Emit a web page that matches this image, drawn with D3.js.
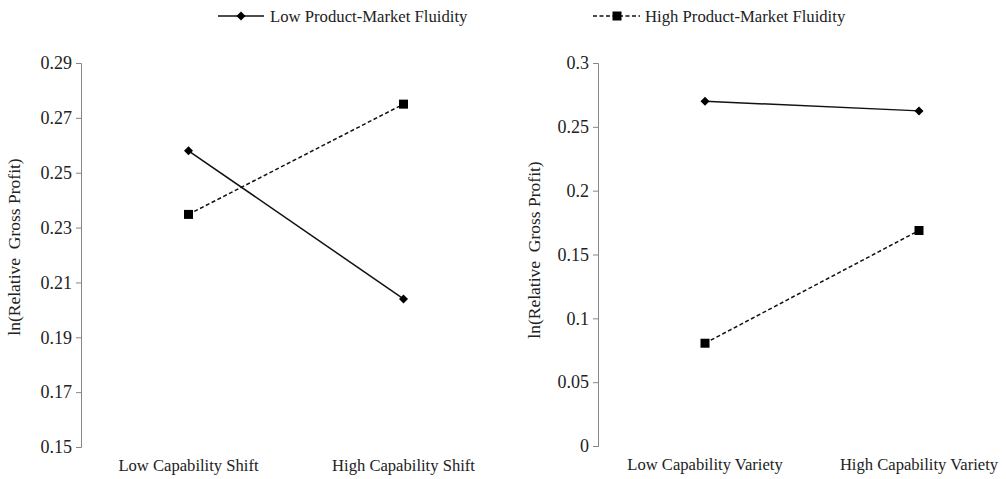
<!DOCTYPE html>
<html>
<head>
<meta charset="utf-8">
<script src="https://cdn.jsdelivr.net/npm/d3@7"></script>
<style>
  html, body { margin: 0; padding: 0; background: #fff; }
  svg text { font-family: "Liberation Serif", "Times New Roman", serif; fill: #222; white-space: pre; }
</style>
</head>
<body>
<svg id="chart" width="1006" height="479"></svg>
<script>
// Interaction plots: ln(relative gross profit) by capability level and product-market fluidity
const seriesNames = ["Low Product-Market Fluidity", "High Product-Market Fluidity"];

const shiftCategories = ["Low Capability Shift", "High Capability Shift"];
const shiftLowFluidity = [0.258, 0.204];
const shiftHighFluidity = [0.2348, 0.275];
const shiftTicks = [0.15, 0.17, 0.19, 0.21, 0.23, 0.25, 0.27, 0.29];
const shiftTickLabels = ["0.15", "0.17", "0.19", "0.21", "0.23", "0.25", "0.27", "0.29"];

const varietyCategories = ["Low Capability Variety", "High Capability Variety"];
const varietyLowFluidity = [0.2700, 0.2625];
const varietyHighFluidity = [0.0805, 0.1688];
const varietyTicks = [0, 0.05, 0.1, 0.15, 0.2, 0.25, 0.3];
const varietyTickLabels = ["0", "0.05", "0.1", "0.15", "0.2", "0.25", "0.3"];

const yTitle = "ln(Relative  Gross Profit)";

const svg = d3.select("#chart");
const axisColor = "#868686";
const tickFont = 18;
const catFont = 16.6;
const legendFont = 16.7;
const titleFont = 17.5;

// diamond marker: a square turned 45 degrees
function diamondPath(r) {
  return `M0,${-r}L${r},0L0,${r}L${-r},0Z`;
}

function panel(opts) {
  const g = svg.append("g");
  const x = d3.scalePoint().domain(opts.categories).range([opts.x0, opts.x1]).padding(0.5);
  const y = d3.scaleLinear().domain([opts.ticks[0], opts.ticks[opts.ticks.length - 1]]).range([opts.yBottom, opts.yTop]);

  const axis = d3.axisLeft(y).tickValues(opts.ticks).tickFormat((d, i) => opts.tickLabels[i]).tickSizeOuter(0).tickSize(5).tickPadding(4);
  const ag = g.append("g").attr("transform", `translate(${opts.x0},0)`).call(axis);
  ag.attr("font-family", null);
  ag.select(".domain").attr("stroke", axisColor).attr("stroke-width", 1);
  ag.selectAll(".tick line").attr("stroke", axisColor);
  ag.selectAll(".tick text").attr("font-size", tickFont).attr("fill", "#222");

  // category labels
  g.selectAll("text.cat").data(opts.categories).enter().append("text")
    .attr("class", "cat")
    .attr("x", d => x(d)).attr("y", opts.yBottom + 24)
    .attr("text-anchor", "middle").attr("font-size", catFont)
    .text(d => d);

  // y title
  g.append("text")
    .attr("transform", `translate(${opts.titleX},${opts.titleY}) rotate(-90)`)
    .attr("text-anchor", "middle").attr("font-size", titleFont)
    .text(yTitle);

  const line = d3.line().x((d, i) => x(opts.categories[i])).y(d => y(d));

  g.append("path").datum(opts.low).attr("d", line)
    .attr("fill", "none").attr("stroke", "#111").attr("stroke-width", 1.5);
  g.append("path").datum(opts.high).attr("d", line)
    .attr("fill", "none").attr("stroke", "#111").attr("stroke-width", 1.5).attr("stroke-dasharray", "4,2.5");

  g.selectAll("path.dia").data(opts.low).enter().append("path")
    .attr("class", "dia")
    .attr("d", diamondPath(4.5))
    .attr("transform", (d, i) => `translate(${x(opts.categories[i])},${y(d)})`)
    .attr("fill", "#000");
  g.selectAll("rect.sq").data(opts.high).enter().append("rect")
    .attr("class", "sq")
    .attr("x", (d, i) => x(opts.categories[i]) - 4.5).attr("y", d => y(d) - 4.5)
    .attr("width", 9).attr("height", 9).attr("fill", "#000");
}

panel({
  categories: shiftCategories, low: shiftLowFluidity, high: shiftHighFluidity,
  ticks: shiftTicks, tickLabels: shiftTickLabels,
  x0: 81, x1: 511, yTop: 63, yBottom: 447, titleX: 20, titleY: 247
});
panel({
  categories: varietyCategories, low: varietyLowFluidity, high: varietyHighFluidity,
  ticks: varietyTicks, tickLabels: varietyTickLabels,
  x0: 598, x1: 1026, yTop: 63, yBottom: 446, titleX: 540, titleY: 250
});

// legend
const leg = svg.append("g");
leg.append("line").attr("x1", 218).attr("x2", 264).attr("y1", 16).attr("y2", 16)
  .attr("stroke", "#111").attr("stroke-width", 1.5);
leg.append("path").attr("d", diamondPath(4.5)).attr("transform", "translate(241,16)");
leg.append("text").attr("x", 270).attr("y", 21.5).attr("font-size", legendFont).text(seriesNames[0]);

leg.append("line").attr("x1", 593).attr("x2", 640).attr("y1", 16).attr("y2", 16)
  .attr("stroke", "#111").attr("stroke-width", 1.5).attr("stroke-dasharray", "4,2.5");
leg.append("rect").attr("x", 612.5).attr("y", 11.5).attr("width", 9).attr("height", 9).attr("fill", "#000");
leg.append("text").attr("x", 645).attr("y", 21.5).attr("font-size", legendFont).text(seriesNames[1]);
</script>
</body>
</html>
